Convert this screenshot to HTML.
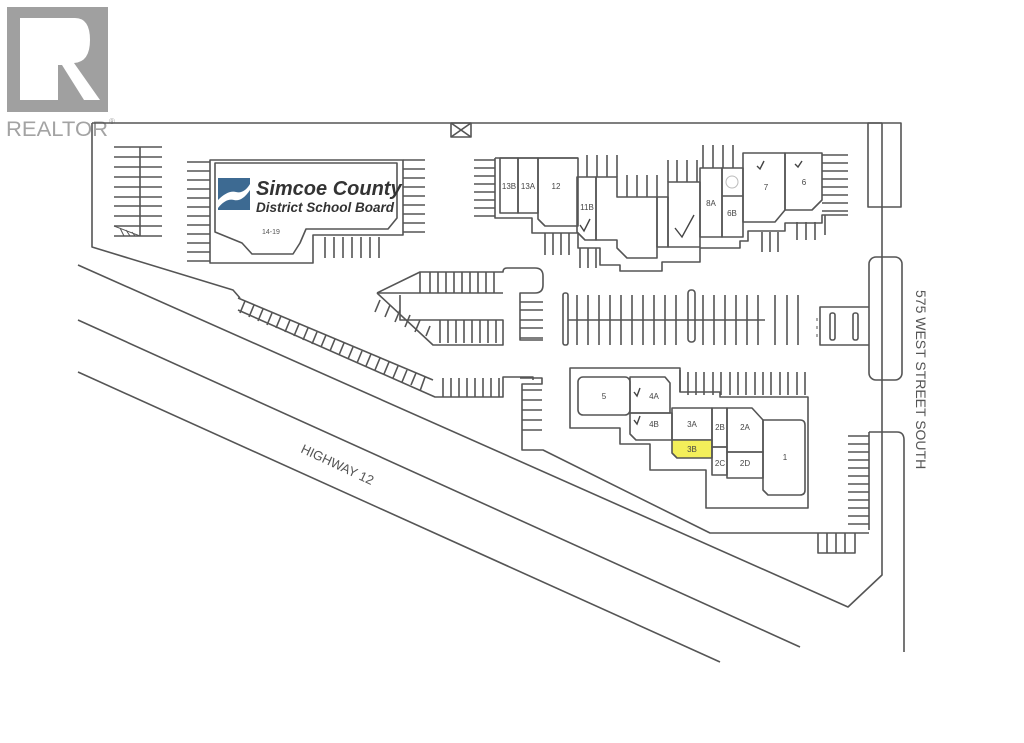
<!DOCTYPE html>
<html><head><meta charset="utf-8"><style>
html,body{margin:0;padding:0;background:#fff;}
svg{display:block;}
</style></head><body>
<svg width="1024" height="743" viewBox="0 0 1024 743" xmlns="http://www.w3.org/2000/svg">
<rect width="1024" height="743" fill="#fff"/>
<!-- REALTOR logo -->
<rect x="7" y="7" width="101" height="105" fill="#a0a0a0"/>
<path d="M20,18 H75 Q90,18 90,40 Q90,62 74,63 L100,100 H84 L62,65 H58 V100 H20 Z" fill="#fff"/>
<text x="6" y="136" font-family="Liberation Sans, sans-serif" font-size="21" fill="#a3a3a3" textLength="102" lengthAdjust="spacingAndGlyphs">REALTOR</text>
<text x="109" y="124" font-family="Liberation Sans, sans-serif" font-size="8" fill="#a3a3a3">®</text>

<g fill="none" stroke="#555" stroke-width="1.6" stroke-linejoin="round">
<!-- property outline -->
<path d="M92,123 H882 M92,123 V247 L233,290 L240,298"/>
<!-- highway lines -->
<path d="M78,265 L848,607 L882,575 V123"/>
<path d="M78,320 L800,647"/>
<path d="M78,372 L720,662"/>
<path d="M869,432 H897 Q904,432 904,440 V652"/>
<path d="M869,432 V530"/>
<!-- X box -->
<rect x="451" y="123" width="20" height="14"/>
<path d="M451,123 L471,137 M471,123 L451,137"/>
<!-- right boxes -->
<rect x="868" y="123" width="33" height="84"/>
<rect x="869" y="257" width="33" height="123" rx="7"/>
<!-- small element -->
<path d="M869,307 H820 V345 H869"/>
<rect x="830" y="313" width="5" height="27" rx="2"/>
<rect x="853" y="313" width="5" height="27" rx="2"/>
<path d="M817,318 v3 M817,326 v3 M817,334 v3" stroke-width="1"/>

<!-- left stalls -->
<path d="M114,147H162M114,157H162M114,167H162M114,177H162M114,187H162M114,197H162M114,206H162M114,216H162M114,226H162M114,236H162M140,147V236"/>
<path d="M114,226 L140,236 M120,228 l4,8 M126,230 l4,6 M132,232 l3,4" stroke-width="1"/>

<!-- school building -->
<path d="M210,160 H403 V235 H313 V263 H210 Z"/>
<path d="M215,163 H397 V218 L388,229 H306 L300,243 L293,254 H252 L242,243 L215,232 Z"/>
<path d="M187,162H210M187,171H210M187,180H210M187,189H210M187,198H210M187,207H210M187,216H210M187,225H210M187,234H210M187,243H210M187,252H210M187,261H210"/>
<path d="M403,160H425M403,169H425M403,178H425M403,187H425M403,196H425M403,205H425M403,214H425M403,223H425M403,232H425"/>
<path d="M325,237V258M334,237V258M343,237V258M352,237V258M361,237V258M370,237V258M379,237V258"/>

<!-- top building row -->
<path d="M495,158 H578 M495,158 V218 H532 V233 H578 V248 H600 V265 H620 V271 H662 V262 H700 V248 H740 V241 H748 V231 H785 V223 H822 V215 H848"/>
<rect x="500" y="158" width="18" height="55"/>
<rect x="518" y="158" width="20" height="55"/>
<path d="M538,158 H578 V226 H545 L538,219 Z"/>
<path d="M577,177 H596 V240 H585 L577,232 Z"/>
<path d="M596,240 V177 H617 V197 H657 V258 H627 L617,248 V240 Z"/>
<rect x="657" y="197" width="11" height="50"/>
<rect x="668" y="182" width="32" height="65"/>
<rect x="700" y="168" width="22" height="69"/>
<rect x="722" y="168" width="21" height="69"/>
<path d="M722,196 H743"/>
<circle cx="732" cy="182" r="6" stroke="#bbb" stroke-width="1"/>
<path d="M743,153 H785 V210 L775,222 H743 Z"/>
<path d="M785,153 H822 V200 L812,210 H785 Z"/>
<path d="M474,160H495M474,168H495M474,176H495M474,184H495M474,192H495M474,200H495M474,208H495M474,216H495"/>
<path d="M587,155V177M597,155V177M607,155V177M617,155V177"/>
<path d="M627,175V197M637,175V197M647,175V197M657,175V197"/>
<path d="M668,160V182M677,160V182M687,160V182M697,160V182"/>
<path d="M703,145V168M713,145V168M723,145V168M733,145V168"/>
<path d="M822,155H848M822,163H848M822,171H848M822,179H848M822,187H848M822,195H848M822,203H848M822,211H848"/>
<path d="M545,233V255M553,233V255M561,233V255M569,233V255"/>
<path d="M580,248V268M588,248V268M596,248V268"/>
<path d="M762,232V252M770,232V252M778,232V252"/>
<path d="M797,222V240M806,222V240M815,222V240M825,215V235"/>

<!-- arrow parking structure -->
<path d="M377,293 L420,272 H503 V272 Q503,268 507,268 H535 Q543,268 543,276 V285 Q543,293 535,293 H520 V340 H543"/>
<path d="M377,293 H503 V293"/>
<path d="M420,272 V293"/>
<path d="M430,272V293M438,272V293M446,272V293M454,272V293M462,272V293M470,272V293M478,272V293M486,272V293M494,272V293"/>
<path d="M520,302H543M520,310H543M520,320H543M520,328H543M520,338H543"/>
<path d="M400,295 V320 H503 V345 H433 L377,293"/>
<path d="M440,320V343M448,320V343M456,320V343M464,320V343M472,320V343M480,320V343M488,320V343M496,320V343"/>
<path d="M380,300l-5,12M390,305l-5,12M400,310l-5,12M410,315l-5,12M420,320l-5,12M430,326l-4,10"/>
<!-- diagonal stalls -->
<path d="M238,298 L433,380 M238,310 L435,397 H503 V377 H533 V380"/>
<path d="M245,301l-5,12M254,305l-5,12M263,309l-5,12M272,313l-5,12M281,316l-5,12M290,320l-5,12M299,324l-5,12M308,328l-5,12M317,332l-5,12M326,335l-5,12M335,339l-5,12M344,343l-5,12M353,347l-5,12M362,351l-5,12M371,354l-5,12M380,358l-5,12M389,362l-5,12M398,366l-5,12M407,370l-5,12M416,373l-5,12M425,377l-5,14"/>
<path d="M443,378V397M451,378V397M459,378V397M467,378V397M475,378V397M483,378V397M491,378V397M499,378V397"/>
<path d="M520,378 H542 V384 H522 V450 H543 L710,533 H869 M522,390H542M522,400H542M522,410H542M522,420H542M522,430H542"/>

<!-- middle parking -->
<rect x="563" y="293" width="5" height="52" rx="2"/>
<rect x="688" y="290" width="7" height="52" rx="3"/>
<path d="M568,320 H765"/>
<path d="M577,295V345M588,295V345M599,295V345M610,295V345M621,295V345M632,295V345M643,295V345M654,295V345M665,295V345M676,295V345M703,295V345M714,295V345M725,295V345M736,295V345M747,295V345M758,295V345M775,295V345M787,295V345M798,295V345"/>

<!-- lower building -->
<path d="M570,368 H680 V392 H720 V397 H808 V508 H706 V470 H650 V444 H620 V428 H570 Z"/>
<path d="M680,370V392M688,372V395M696,372V395M704,372V395M713,372V395M721,372V395M730,372V395M738,372V395M746,372V395M755,372V395M763,372V395M771,372V395M780,372V395M788,372V395M797,372V395M805,372V395"/>
<rect x="578" y="377" width="52" height="38" rx="5"/>
<path d="M630,377 H665 L670,383 V413 H630 Z"/>
<path d="M630,413 H672 V440 H636 L630,434 Z"/>
<rect x="672" y="408" width="40" height="32"/>
<path d="M672,440 H712 V458 H677 L672,453 Z" fill="#f3ef5a"/>
<rect x="712" y="408" width="15" height="39"/>
<rect x="712" y="447" width="15" height="28"/>
<path d="M727,408 H752 L763,420 V452 H727 Z"/>
<path d="M727,452 H763 V478 H727 Z"/>
<path d="M763,420 H800 Q805,420 805,425 V490 Q805,495 800,495 H768 L763,490 Z"/>
<!-- right lower stalls -->
<path d="M848,436H869M848,444H869M848,452H869M848,460H869M848,468H869M848,476H869M848,484H869M848,492H869M848,500H869M848,508H869M848,516H869M848,524H869"/>
<path d="M818,533V553H855V533M827,533V553M836,533V553M845,533V553"/>
</g>

<!-- logo -->
<rect x="218" y="178" width="32" height="32" fill="#3d6a92"/>
<path d="M218,200 Q228,190 236,192 Q244,194 250,184 V190 Q242,202 234,200 Q226,198 218,208 Z" fill="#fff"/>
<text x="256" y="195" font-family="Liberation Sans, sans-serif" font-size="20" font-weight="bold" font-style="italic" fill="#333">Simcoe County</text>
<text x="256" y="212" font-family="Liberation Sans, sans-serif" font-size="13.5" font-weight="bold" font-style="italic" fill="#333">District School Board</text>
<text x="262" y="234" font-family="Liberation Sans, sans-serif" font-size="7" fill="#555">14-19</text>

<g font-family="Liberation Sans, sans-serif" font-size="8" fill="#444" text-anchor="middle">
<text x="509" y="189">13B</text><text x="528" y="189">13A</text><text x="556" y="189">12</text>
<text x="587" y="210">11B</text><text x="711" y="206">8A</text><text x="732" y="216">6B</text>
<text x="766" y="190">7</text><text x="804" y="185">6</text>
<text x="604" y="399">5</text><text x="654" y="399">4A</text><text x="654" y="427">4B</text>
<text x="692" y="427">3A</text><text x="692" y="452">3B</text>
<text x="720" y="430">2B</text><text x="745" y="430">2A</text>
<text x="720" y="466">2C</text><text x="745" y="466">2D</text><text x="785" y="460">1</text>
</g>
<g fill="none" stroke="#444" stroke-width="1.4">
<path d="M580,225 l4,6 l6,-12"/><path d="M675,228 l7,9 l12,-22"/>
<path d="M757,166 l3,3 l4,-8"/><path d="M795,164 l3,3 l4,-6"/>
<path d="M634,392 l3,4 l3,-8"/><path d="M634,420 l3,4 l3,-8"/>
</g>

<text transform="translate(916,290) rotate(90)" font-family="Liberation Sans, sans-serif" font-size="14" fill="#555">575 WEST STREET SOUTH</text>
<text transform="translate(300,452) rotate(25)" font-family="Liberation Sans, sans-serif" font-size="13" fill="#555">HIGHWAY 12</text>
</svg>
</body></html>
